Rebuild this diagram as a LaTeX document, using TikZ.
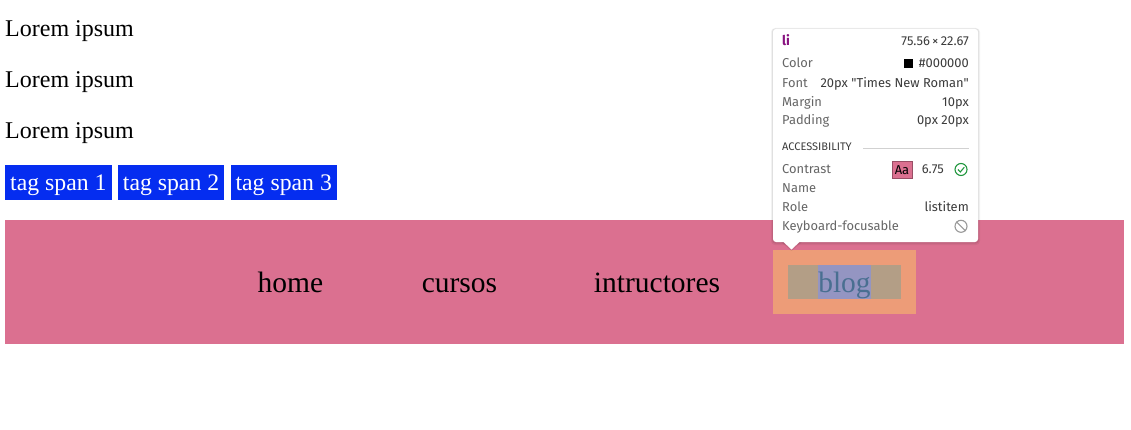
\documentclass[tikz,border=0pt]{standalone}
\usepackage{fontspec}
\setmainfont{Liberation Serif}
\newfontfamily\tipfont{Fira Sans}
\usetikzlibrary{positioning}
\definecolor{navpink}{RGB}{219,112,144}
\definecolor{tagblue}{RGB}{5,45,240}
\definecolor{marginorange}{RGB}{237,156,120}
\definecolor{paddingtan}{RGB}{179,158,134}
\definecolor{contentblue}{RGB}{148,149,194}
\definecolor{blogtext}{RGB}{73,111,145}
\definecolor{tagpurple}{RGB}{136,18,128}
\definecolor{tipgray}{RGB}{102,102,102}
\definecolor{tipdark}{RGB}{60,60,60}
\definecolor{okgreen}{RGB}{30,150,60}

\begin{document}
\begin{tikzpicture}[x=1pt,y=-1pt,
    page text/.style={anchor=base west,inner sep=0pt,font=\fontsize{24}{28}\selectfont},
    tag node/.style={anchor=base west,fill=tagblue,text=white,inner xsep=5pt,inner ysep=0pt,
      text height=25.7pt,text depth=9.3pt,font=\fontsize{23.75}{28}\selectfont},
    nav item/.style={anchor=base,inner sep=0pt,font=\fontsize{29.5}{34}\selectfont},
    tip label/.style={anchor=base west,inner sep=0pt,text=tipgray,font=\tipfont\fontsize{12.9}{15}\selectfont},
    tip value/.style={anchor=base east,inner sep=0pt,text=tipdark,font=\tipfont\fontsize{12.9}{15}\selectfont}]
  \fill[white] (0,0) rectangle (1131,430);
  \useasboundingbox (0,0) rectangle (1131,430);

  % page text
  \node[page text] (lorem1) at (5,37) {Lorem ipsum};
  \node[page text] (lorem2) at (5,88) {Lorem ipsum};
  \node[page text] (lorem3) at (5,138.5) {Lorem ipsum};

  % spans
  \node[tag node] (span1) at (5,190.7) {tag span 1};
  \node[tag node,right=6pt of span1] (span2) {tag span 2};
  \node[tag node,right=6pt of span2] (span3) {tag span 3};

  % nav bar
  \node[fill=navpink,minimum width=1119pt,minimum height=124pt,inner sep=0pt] (nav) at (564.5,282) {};
  \node[nav item] (home) at (290.5,292) {home};
  \node[nav item] (cursos) at (459.5,292) {cursos};
  \node[nav item] (intructores) at (657,292) {intructores};

  % highlighted li
  \node[fill=marginorange,minimum width=143.3pt,minimum height=64pt,inner sep=0pt] (blogmargin) at (844.4,282) {};
  \node[fill=paddingtan,minimum width=113pt,minimum height=34pt,inner sep=0pt] (blogpadding) at (844.5,282) {};
  \node[fill=contentblue,minimum width=53pt,minimum height=34pt,inner sep=0pt] (blogcontent) at (844.5,282) {};
  \node[nav item,text=blogtext] (blog) at (844.5,292) {blog};

  % tooltip
  \fill[black,opacity=0.05,rounded corners=4pt] (771,28) rectangle (980,245);
  \fill[black,opacity=0.07,rounded corners=3pt] (772,28.5) rectangle (979,243.5);
  \fill[black,opacity=0.08] (781,242) -- (791.5,251) -- (802,242) -- cycle;
  \fill[white,rounded corners=3pt] (773,29) rectangle (978,242);
  \fill[white] (782.5,241) -- (791.5,249.5) -- (800.5,241) -- cycle;

  \node[tip label,text=tagpurple,font=\tipfont\bfseries\fontsize{13.5}{15}\selectfont] (tipname) at (782,46) {li};
  \node[tip value] (tipsize) at (969,46) {75.56\,\texttimes\,22.67};
  \node[tip label] (colorlabel) at (782,67.7) {Color};
  \node[tip value] (colorvalue) at (969,67.7) {\#000000};
  \node[fill=black,minimum size=9pt,inner sep=0pt] (swatch) at (908.7,63.8) {};
  \node[tip label] (fontlabel) at (782,87.3) {Font};
  \node[tip value] (fontvalue) at (969,87.3) {20px "Times New Roman"};
  \node[tip label] (marginlabel) at (782,106.3) {Margin};
  \node[tip value] (marginvalue) at (969,106.3) {10px};
  \node[tip label] (paddinglabel) at (782,125) {Padding};
  \node[tip value] (paddingvalue) at (969,125) {0px 20px};

  \node[tip label,text=tipdark,font=\tipfont\fontsize{11}{12}\selectfont] (access) at (782,150.7) {ACCESSIBILITY};
  \coordinate (ruleend) at (969,148.3);
  \draw[black!18,line width=0.8pt] (863,148.3) -- (ruleend);

  \node[tip label] (contrastlabel) at (782,173.3) {Contrast};
  \node[fill=navpink,draw=navpink!70!black,line width=0.5pt,minimum width=20pt,minimum height=17pt,
    inner sep=0pt,text=black,font=\tipfont\fontsize{12.9}{15}\selectfont] (aabox) at (902,169.7) {Aa};
  \node[tip value] (contrastvalue) at (944,173.3) {6.75};
  \node[circle,draw=okgreen,line width=1.1pt,minimum size=12pt,inner sep=0pt] (okmark) at (961,169.5) {};
  \draw[okgreen,line width=1.1pt] ([xshift=-3pt,yshift=0pt]okmark.center) -- ++(2.3,2.5) -- ++(4,-4.8);
  \node[tip label] (namelabel) at (782,192.3) {Name};
  \node[tip label] (rolelabel) at (782,211.7) {Role};
  \node[tip value] (rolevalue) at (969,211.7) {listitem};
  \node[tip label] (keylabel) at (782,230.7) {Keyboard-focusable};
  \node[circle,draw=black!40,line width=1.1pt,minimum size=12pt,inner sep=0pt] (nomark) at (961,226.3) {};
  \draw[black!40,line width=1.1pt] (nomark.north west) -- (nomark.south east);
\end{tikzpicture}
\end{document}
